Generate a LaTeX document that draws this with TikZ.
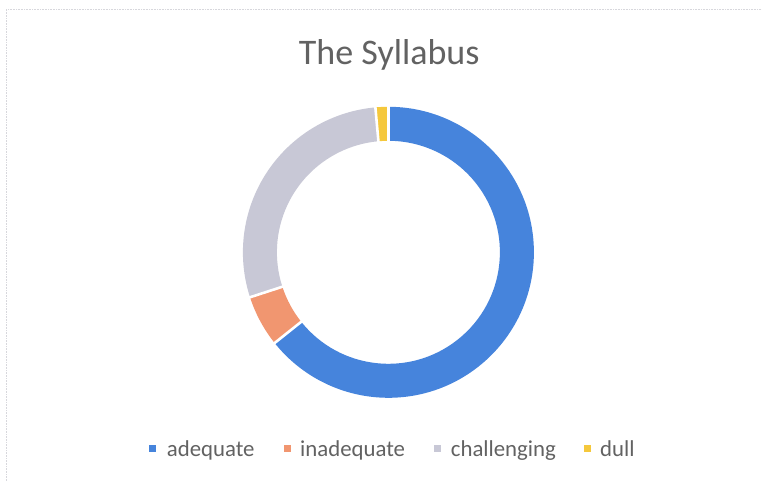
\documentclass[tikz,border=0pt]{standalone}
\usepackage{fontspec}
\setmainfont{Carlito}
\usetikzlibrary{calc}
\definecolor{cblue}{RGB}{70,132,220}
\definecolor{corange}{RGB}{241,150,112}
\definecolor{cgrey}{RGB}{200,200,214}
\definecolor{cyellow}{RGB}{245,200,60}
\definecolor{ctext}{RGB}{98,98,98}
\definecolor{cframe}{RGB}{215,215,220}
\tikzset{
  legtext/.style={anchor=base west, inner sep=0pt, text=ctext, font=\fontsize{22.8}{26}\selectfont},
  legsq/.style={minimum size=7pt, inner sep=0pt, draw=none},
  sep/.style={white, line width=2.6pt},
}
\newcommand{\ringseg}[3]{%
  \fill[#3] ($(c)+(#1:145.5)$) arc[start angle=#1, end angle=#2, radius=145.5]
    -- ($(c)+(#2:111.5)$) arc[start angle=#2, end angle=#1, radius=111.5] -- cycle;}
\newcommand{\ringsep}[1]{%
  \draw[sep] ($(c)+(#1:109)$) -- ($(c)+(#1:148)$);}
\begin{document}
\begin{tikzpicture}[x=1pt,y=1pt]
\useasboundingbox (0,0) rectangle (762,481);
\fill[white] (0,0) rectangle (762,481);
% faint scanned frame
\draw[cframe, densely dotted, line width=0.6pt] (6,0) -- (6,471.5) -- (762,471.5);
% title
\node[anchor=base, inner sep=0pt, text=ctext, font=\fontsize{36}{40}\selectfont] (title) at (389.2,416) {The Syllabus};
% donut
\coordinate (c) at (388.4,228.7);
\ringseg{90}{-141.43}{cblue}
\ringseg{-141.43}{-162.0}{corange}
\ringseg{-162.0}{-264.86}{cgrey}
\ringseg{-264.86}{-270}{cyellow}
\ringsep{90}
\ringsep{-141.43}
\ringsep{-162.0}
\ringsep{-264.86}
% legend
\node[legsq, fill=cblue] (s1) at (152.5,32.3) {};
\node[legtext] (t1) at (166.7,24.3) {adequate};
\node[legsq, fill=corange] (s2) at (287.5,32.3) {};
\node[legtext] (t2) at (300,24.3) {inadequate};
\node[legsq, fill=cgrey] (s3) at (437.5,32.3) {};
\node[legtext] (t3) at (450.7,24.3) {challenging};
\node[legsq, fill=cyellow] (s4) at (587.5,32.3) {};
\node[legtext] (t4) at (600,24.3) {dull};
\end{tikzpicture}
\end{document}
